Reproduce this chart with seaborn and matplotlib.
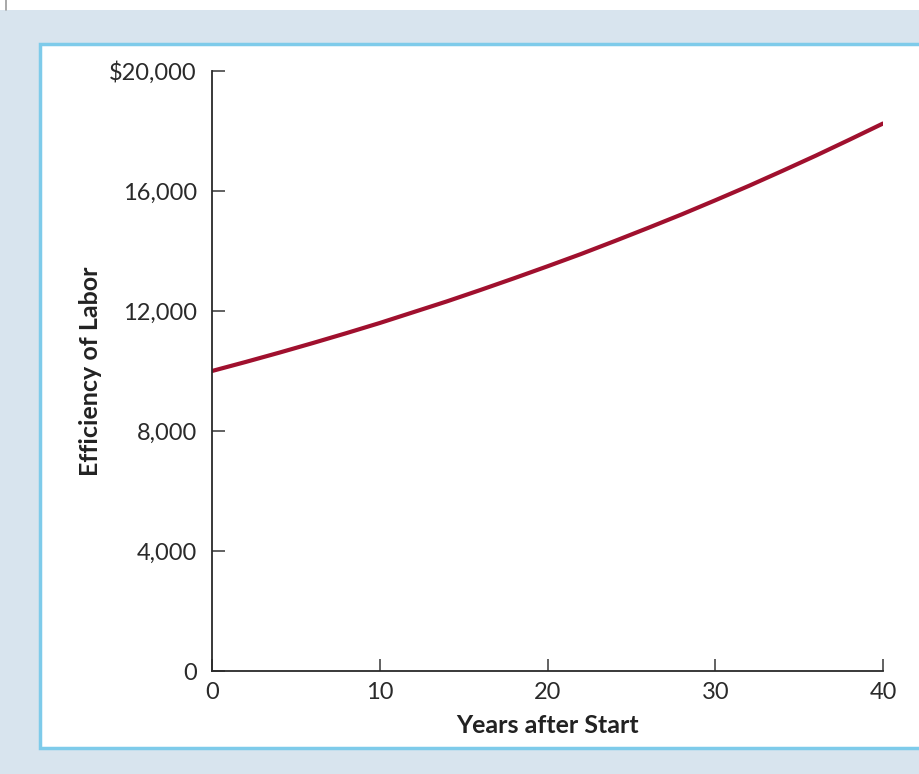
import matplotlib
matplotlib.use("Agg")
import matplotlib.pyplot as plt
import seaborn as sns
import pandas as pd
from matplotlib.patches import Rectangle
from matplotlib.lines import Line2D

# ---------- data ----------
years = [0, 2, 4, 6, 8, 10, 12, 14, 16, 18, 20, 22, 24, 26, 28, 30, 32, 34, 36, 38, 40]
efficiency = [10000, 10300, 10610, 10930, 11260, 11600, 11960, 12320, 12700, 13090,
              13490, 13900, 14330, 14770, 15220, 15690, 16170, 16670, 17180, 17710, 18250]
x_ticks = [0, 10, 20, 30, 40]
y_ticks = [0, 4000, 8000, 12000, 16000, 20000]
y_tick_labels = ["0", "4,000", "8,000", "12,000", "16,000", "$20,000"]

df = pd.DataFrame({"year": years, "efficiency": efficiency})

sns.set_style("white")
plt.rcParams["font.family"] = ["Lato", "DejaVu Sans"]

W, H = 920, 774
fig = plt.figure(figsize=(W / 100, H / 100), dpi=100)
fig.patch.set_facecolor("#d8e4ee")

# white strip on top + thin grey rule at far left
fig.patches.append(Rectangle((0, 1 - 10 / H), 1, 10 / H, transform=fig.transFigure,
                             facecolor="white", edgecolor="none", zorder=-2))
fig.add_artist(Line2D([6 / W, 6 / W], [1 - 10 / H, 1], transform=fig.transFigure,
                      color="#9a9a9a", lw=1.2, zorder=-1))
# white panel with light blue border, running off the right edge
fig.patches.append(Rectangle((40 / W, 1 - 748 / H), 900 / W, 704 / H, transform=fig.transFigure,
                             facecolor="white", edgecolor="#7ecbea", lw=2.5, zorder=-2))

ax = fig.add_axes([212 / W, 1 - 671 / H, (883 - 212) / W, 600 / H])
ax.set_zorder(1)
ax.set_facecolor("none")
sns.lineplot(data=df, x="year", y="efficiency", ax=ax, color="#a0102e", lw=3,
             solid_capstyle="round")

ax.set_xlim(0, 40)
ax.set_ylim(0, 20000)
ax.set_xticks(x_ticks)
ax.set_yticks(y_ticks)
ax.set_yticklabels(y_tick_labels)
sns.despine(ax=ax)
for s in ["left", "bottom"]:
    ax.spines[s].set_color("#2a2a2a")
    ax.spines[s].set_linewidth(1.3)
ax.tick_params(bottom=True, left=True, direction="in", length=9, width=1.3,
               color="#555555", labelsize=17, labelcolor="#2a2a2a")
ax.tick_params(axis="x", pad=8)
ax.tick_params(axis="y", pad=11)

ax.set_xlabel("Years after Start", fontsize=18, fontweight="bold", color="#222222", labelpad=8)
ax.set_ylabel("Efficiency of Labor", fontsize=18, fontweight="bold", color="#222222", labelpad=5)

fig.savefig("out.png", dpi=100, facecolor=fig.get_facecolor())
